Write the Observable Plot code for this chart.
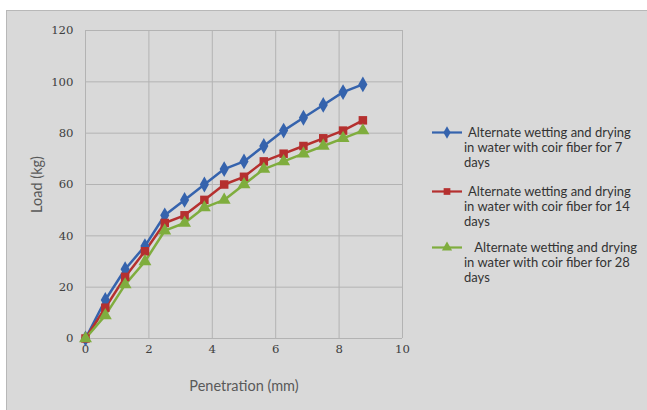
<!DOCTYPE html>
<html>
<head>
<meta charset="utf-8">
<script src="https://cdn.jsdelivr.net/npm/d3@7"></script>
<script src="https://cdn.jsdelivr.net/npm/@observablehq/plot@0.6"></script>
<style>
  html, body { margin: 0; padding: 0; background: #ffffff; }
  #wrap { position: relative; width: 647px; height: 410px; overflow: hidden; }
  #panel { position: absolute; left: 6px; top: 10px; width: 641px; height: 400px;
           background: #d9d9d9; border-left: 1px solid #b8b8b8; border-top: 1px solid #b8b8b8; box-sizing: border-box; }
  #chart { position: absolute; left: 0; top: 0; }
  .legend { position: absolute; font-family: Lato, "Open Sans", sans-serif; font-size: 13px; color: #333333; line-height: 15px; }
  .entry { position: absolute; width: 190px; }
  .entry svg { position: absolute; left: -34px; top: 0px; }
  .entry .first { display: block; }
</style>
</head>
<body>
<div id="wrap">
  <div id="panel"></div>
  <div id="chart"></div>
  <div class="legend" id="legend"></div>
</div>
<script>
const penetration = [0, 0.625, 1.25, 1.875, 2.5, 3.125, 3.75, 4.375, 5, 5.625, 6.25, 6.875, 7.5, 8.125, 8.75];
const load7  = [0, 15, 27, 36, 48, 54, 60, 66, 69, 75, 81, 86, 91, 96, 99];
const load14 = [0, 12, 24, 34, 45, 48, 54, 60, 63, 69, 72, 75, 78, 81, 85];
const load28 = [0,  9, 21, 30, 42, 45, 51, 54, 60, 66, 69, 72, 75, 78, 81];
const seriesNames = [
  "Alternate wetting and drying in water with coir fiber for 7 days",
  "Alternate wetting and drying in water with coir fiber for 14 days",
  "Alternate wetting and drying in water with coir fiber for 28 days"
];
const legendLines = [
  ["Alternate wetting and drying", "in water with coir fiber for 7", "days"],
  ["Alternate wetting and drying", "in water with coir fiber for 14", "days"],
  ["\u00a0\u00a0Alternate wetting and drying", "in water with coir fiber for 28", "days"]
];
const xLabel = "Penetration (mm)";
const yLabel = "Load (kg)";
const colors = ["#3563ad", "#b5302f", "#7fad3e"];
const symbols = ["diamond", "square", "triangle"];
const xTicks = [0, 2, 4, 6, 8, 10];
const yTicks = [0, 20, 40, 60, 80, 100, 120];

const allLoads = [load7, load14, load28];
const data = [];
allLoads.forEach((arr, i) => arr.forEach((v, j) => data.push({series: seriesNames[i], x: penetration[j], y: v})));

const chart = Plot.plot({
  width: 647,
  height: 410,
  marginLeft: 85,
  marginRight: 245,
  marginTop: 30,
  marginBottom: 72,
  style: { background: "transparent", color: "#404040" },
  x: { domain: [0, 10], ticks: xTicks, label: null },
  y: { domain: [0, 120], ticks: yTicks, label: null },
  color: { domain: seriesNames, range: colors },
  symbol: { domain: seriesNames, range: symbols },
  marks: [
    Plot.gridX(xTicks, { stroke: "#b3b3b3", strokeOpacity: 1 }),
    Plot.gridY(yTicks, { stroke: "#b3b3b3", strokeOpacity: 1 }),
    Plot.axisX(xTicks, { tickSize: 0, tickPadding: 6, fill: "#404040",
      label: xLabel, labelArrow: "none", labelAnchor: "center", labelOffset: 52 }),
    Plot.axisY(yTicks, { tickSize: 0, tickPadding: 12, fill: "#404040",
      label: yLabel, labelArrow: "none", labelAnchor: "center", labelOffset: 54 }),
    Plot.line(data, { x: "x", y: "y", stroke: "series", strokeWidth: 2.5 }),
    Plot.dot(data, { x: "x", y: "y", fill: "series", symbol: "series", r: 4.8, stroke: "none" })
  ]
});
document.getElementById("chart").appendChild(chart);

// style text: tick labels serif, axis titles sans
chart.querySelectorAll("text").forEach(t => {
  const s = t.textContent;
  if (s.includes("Penetration") || s.includes("Load")) {
    t.textContent = s.replace(/\s*[\u2190-\u2193]\s*/g, "");
    t.style.fontFamily = "Lato, 'Open Sans', sans-serif";
    t.style.fontSize = "14.5px";
    t.style.fill = "#595959";
  } else if (/^\d+$/.test(s.trim())) {
    t.style.fontFamily = "'DejaVu Serif', serif";
    t.style.fontSize = "11.7px";
    t.style.fill = "#404040";
  }
});

// legend
const legend = document.getElementById("legend");
const entryTops = [125, 184, 240];
seriesNames.forEach((name, i) => {
  const e = document.createElement("div");
  e.className = "entry";
  e.style.left = "464px";
  e.style.top = entryTops[i] + "px";
  const sym = d3.symbol().type([d3.symbolDiamond, d3.symbolSquare, d3.symbolTriangle][i]).size(45)();
  e.innerHTML = `<svg width="34" height="15"><line x1="2" x2="32" y1="7.5" y2="7.5" stroke="${colors[i]}" stroke-width="2.2"/>` +
    `<path d="${sym}" transform="translate(17,7.5)" fill="${colors[i]}"/></svg>` +
    `<span class="first" style="padding-left:4px">${legendLines[i][0]}</span>` +
    `<span class="first">${legendLines[i][1]}</span>` +
    `<span class="first">${legendLines[i][2]}</span>`;
  legend.appendChild(e);
});
</script>
</body>
</html>
